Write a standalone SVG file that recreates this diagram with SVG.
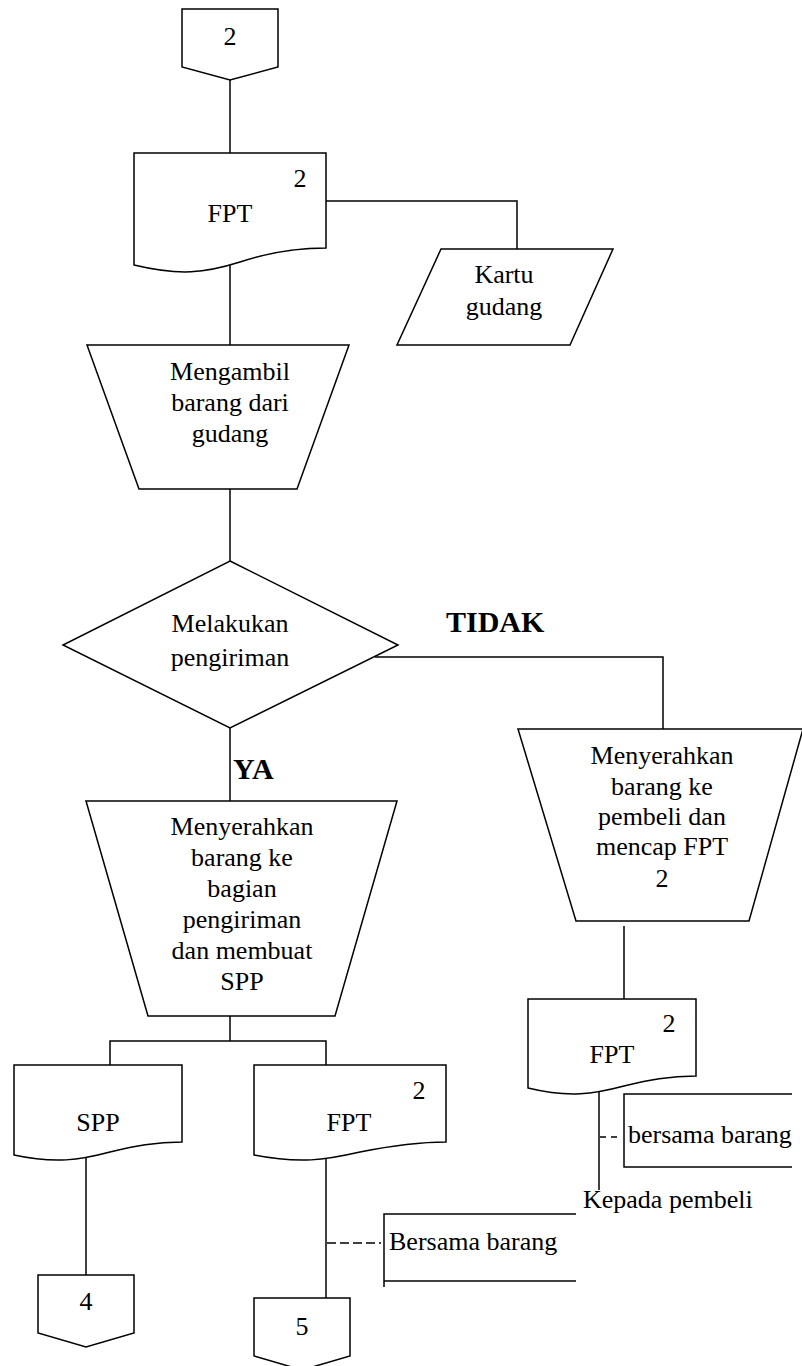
<svg xmlns="http://www.w3.org/2000/svg" width="802" height="1366" viewBox="0 0 802 1366">
<style>
.s{fill:#fff;stroke:#000;stroke-width:1.5}
.l{fill:none;stroke:#000;stroke-width:1.5}
.d{fill:none;stroke:#000;stroke-width:1.5;stroke-dasharray:6 5}
.d2{fill:none;stroke:#000;stroke-width:1.5;stroke-dasharray:9 4}
text{font-family:"Liberation Serif","Times New Roman",serif;font-size:26px;fill:#000}
.c{text-anchor:middle}
.b{font-weight:bold;font-size:30px}
</style>
<rect width="802" height="1366" fill="#fff"/>
<g id="connectors">
<polyline class="l" points="230,80 230,160"/>
<polyline class="l" points="320,201 517,201 517,249"/>
<polyline class="l" points="230,262 230,345"/>
<polyline class="l" points="230,489 230,561"/>
<polyline class="l" points="375,657 663,657 663,729"/>
<polyline class="l" points="230,728 230,801"/>
<polyline class="l" points="624,926 624,999"/>
<polyline class="l" points="230,1016 230,1041"/>
<polyline class="l" points="110,1065 110,1041 326,1041 326,1065"/>
<polyline class="l" points="86,1155 86,1275"/>
<polyline class="l" points="326,1150 326,1298"/>
<polyline class="l" points="599,1090 599,1190"/>
<line class="d" x1="600" y1="1137" x2="620" y2="1137"/>
<line class="d2" x1="327" y1="1243" x2="381" y2="1243"/>
<polyline class="l" points="792,1094 624,1094 624,1167 792,1167"/>
<polyline class="l" points="576,1214 384,1214 384,1287"/>
<line class="l" x1="384" y1="1281" x2="576" y2="1281"/>
</g>
<g id="conn2">
<polygon class="s" points="182,9 278,9 278,67 230,80 182,67"/>
<text class="c" x="230" y="45">2</text>
</g>
<g id="fpt1">
<path class="s" d="M134,153 H326 V248 C295,248 270,252 240,262 C205,273 180,276 134,265 Z"/>
<text class="c" x="230" y="222">FPT</text>
<text class="c" x="300" y="187">2</text>
</g>
<g id="kartu">
<polygon class="s" points="441,249 613,249 570,345 397,345"/>
<text class="c" x="504" y="283">Kartu</text>
<text class="c" x="504" y="315">gudang</text>
</g>
<g id="mengambil">
<polygon class="s" points="87,345 349,345 297,489 139,489"/>
<text class="c" x="230" y="380">Mengambil</text>
<text class="c" x="230" y="411">barang dari</text>
<text class="c" x="230" y="442">gudang</text>
</g>
<g id="decision">
<polygon class="s" points="230,561 398,645 230,728 63,645"/>
<text class="c" x="230" y="632">Melakukan</text>
<text class="c" x="230" y="666">pengiriman</text>
</g>
<g id="labels">
<text class="b" x="446" y="632">TIDAK</text>
<text class="b" x="233" y="779">YA</text>
</g>
<g id="serah-kirim">
<polygon class="s" points="86,801 397,801 335,1016 148,1016"/>
<text class="c" x="242" y="835">Menyerahkan</text>
<text class="c" x="242" y="866">barang ke</text>
<text class="c" x="242" y="897">bagian</text>
<text class="c" x="242" y="928">pengiriman</text>
<text class="c" x="242" y="959">dan membuat</text>
<text class="c" x="242" y="990">SPP</text>
</g>
<g id="serah-pembeli">
<polygon class="s" points="518,729 803,729 749,921 576,921"/>
<text class="c" x="662" y="764">Menyerahkan</text>
<text class="c" x="662" y="795">barang ke</text>
<text class="c" x="662" y="825">pembeli dan</text>
<text class="c" x="662" y="855">mencap FPT</text>
<text class="c" x="662" y="887">2</text>
</g>
<g id="fpt-right">
<path class="s" d="M528,999 H696 V1076 C669,1076 649,1080 624,1086 C594,1094 569,1098 528,1088 Z"/>
<text class="c" x="612" y="1063">FPT</text>
<text class="c" x="669" y="1032">2</text>
</g>
<g id="spp">
<path class="s" d="M14,1065 H182 V1142 C155,1142 135,1146 110,1152 C80,1160 55,1164 14,1155 Z"/>
<text class="c" x="98" y="1131">SPP</text>
</g>
<g id="fpt-mid">
<path class="s" d="M254,1065 H446 V1142 C415,1142 390,1146 360,1152 C325,1160 300,1164 254,1155 Z"/>
<text class="c" x="349" y="1131">FPT</text>
<text class="c" x="419" y="1099">2</text>
</g>
<g id="notes">
<text x="628" y="1143">bersama barang</text>
<text x="583" y="1208">Kepada pembeli</text>
<text x="389" y="1250">Bersama barang</text>
</g>
<g id="conn4">
<polygon class="s" points="38,1275 134,1275 134,1333 86,1347 38,1333"/>
<text class="c" x="86" y="1310">4</text>
</g>
<g id="conn5">
<polygon class="s" points="254,1298 350,1298 350,1356 302,1370 254,1356"/>
<text class="c" x="302" y="1335">5</text>
</g>
</svg>
